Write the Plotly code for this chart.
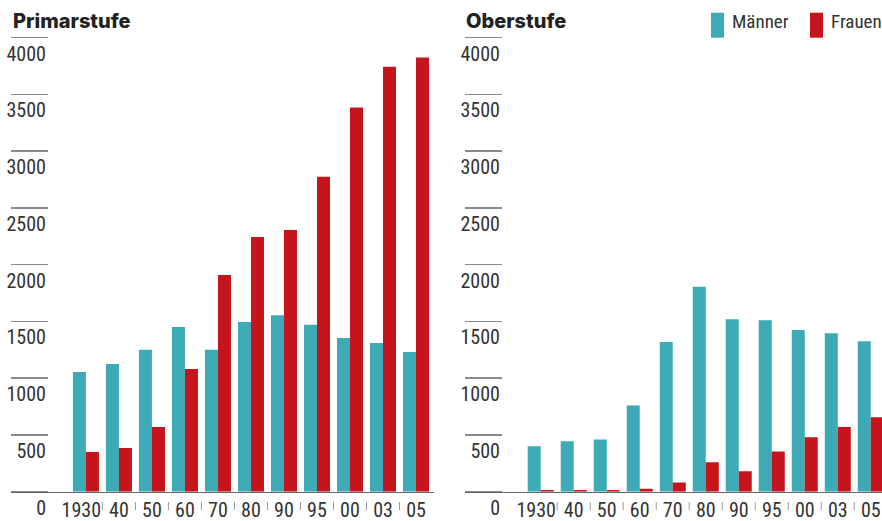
import plotly.graph_objects as go

# ---- data ----
categories = ["1930", "40", "50", "60", "70", "80", "90", "95", "00", "03", "05"]
tick_labels = ["1930\u00a0\u00a0", "40", "50", "60", "70", "80", "90", "95", "00", "03", "05"]
primar_maenner = [1055, 1125, 1250, 1450, 1250, 1495, 1555, 1470, 1355, 1310, 1230]
primar_frauen = [350, 385, 570, 1080, 1910, 2245, 2305, 2775, 3385, 3745, 3825]
ober_maenner = [400, 445, 460, 760, 1320, 1805, 1520, 1510, 1425, 1395, 1325]
ober_frauen = [15, 15, 15, 25, 80, 260, 180, 355, 480, 570, 655]
y_ticks = [0, 500, 1000, 1500, 2000, 2500, 3000, 3500, 4000]
y_tick_text = [str(v) for v in y_ticks]
series_names = ["Männer", "Frauen"]
panel_titles = ["Primarstufe", "Oberstufe"]

# ---- style ----
W, H = 882, 521
TEAL = "#3EAAB5"
RED = "#C5141C"
FONT = "Roboto Condensed, DejaVu Sans Condensed, Liberation Sans, sans-serif"
TITLE_FONT = "Inter, Roboto, DejaVu Sans, sans-serif"
TXT = "#333333"


def px(xp):
    return xp / W


def py(yp):
    return (H - yp) / H


fig = go.Figure()
fig.add_trace(go.Bar(x=categories, y=primar_maenner, name=series_names[0], marker_color=TEAL,
                     marker_line_width=0, xaxis="x", yaxis="y", showlegend=False))
fig.add_trace(go.Bar(x=categories, y=primar_frauen, name=series_names[1], marker_color=RED,
                     marker_line_width=0, xaxis="x", yaxis="y", showlegend=False))
fig.add_trace(go.Bar(x=categories, y=ober_maenner, name=series_names[0], marker_color=TEAL,
                     marker_line_width=0, xaxis="x2", yaxis="y2", showlegend=False))
fig.add_trace(go.Bar(x=categories, y=ober_frauen, name=series_names[1], marker_color=RED,
                     marker_line_width=0, xaxis="x2", yaxis="y2", showlegend=False))

y_dom = [py(491.7), py(37.7)]

xcommon = dict(type="category", tickvals=categories, ticktext=tick_labels, tickangle=0,
               showline=True, linecolor="#666666", linewidth=1.5, ticks="",
               showgrid=False, zeroline=False, fixedrange=True,
               tickfont=dict(family=FONT, size=20, color=TXT), automargin=False)
ycommon = dict(range=[0, 4000], domain=y_dom, anchor="free", side="left",
               tickvals=y_ticks, ticktext=y_tick_text, ticks="outside", ticklen=37,
               tickwidth=1.5, tickcolor="#8a8a8a", showline=False, showgrid=False,
               zeroline=False, ticklabelshift=16, ticklabelstandoff=-39, fixedrange=True,
               tickfont=dict(family=FONT, size=20, color=TXT), automargin=False)

fig.update_layout(
    width=W, height=H,
    margin=dict(l=0, r=0, t=0, b=0),
    paper_bgcolor="white", plot_bgcolor="white",
    barmode="group", bargap=0.212, bargroupgap=0,
    hovermode=False,
    xaxis=dict(domain=[px(11), px(434)], range=[-2.27, 10.545], anchor="y", **xcommon),
    xaxis2=dict(domain=[px(465), 1.0], range=[-2.294, 10.34], anchor="y2", **xcommon),
    yaxis=dict(position=px(48), **ycommon),
    yaxis2=dict(position=px(502), **ycommon),
)

shapes = []
for xa in ["x", "x2"]:
    for i in range(len(categories) - 1):
        shapes.append(dict(type="line", xref=xa, yref="paper", x0=i + 0.5, x1=i + 0.5,
                           y0=py(510), y1=py(502), line=dict(color="#9a9a9a", width=1)))
for x0, col in [(711, TEAL), (810, RED)]:
    shapes.append(dict(type="rect", xref="paper", yref="paper", x0=px(x0), x1=px(x0 + 13),
                       y0=py(37.7), y1=py(12.7), fillcolor=col, line=dict(width=0)))

annotations = []
for x0, name in [(730, series_names[0]), (829, series_names[1])]:
    annotations.append(dict(xref="paper", yref="paper", x=px(x0), y=py(21.5), xanchor="left",
                            yanchor="middle", text=name, showarrow=False,
                            font=dict(family=FONT, size=19, color=TXT)))
for x0, t in [(11, panel_titles[0]), (464, panel_titles[1])]:
    annotations.append(dict(xref="paper", yref="paper", x=px(x0), y=py(21), xanchor="left",
                            yanchor="middle", text=t, showarrow=False,
                            font=dict(family=TITLE_FONT, size=20, color="#222222", weight=800)))

fig.update_layout(shapes=shapes, annotations=annotations)
fig.write_html("out.html", config={"displayModeBar": False, "staticPlot": True},
               post_script="document.body.style.margin='0';document.body.style.overflow='hidden';")
